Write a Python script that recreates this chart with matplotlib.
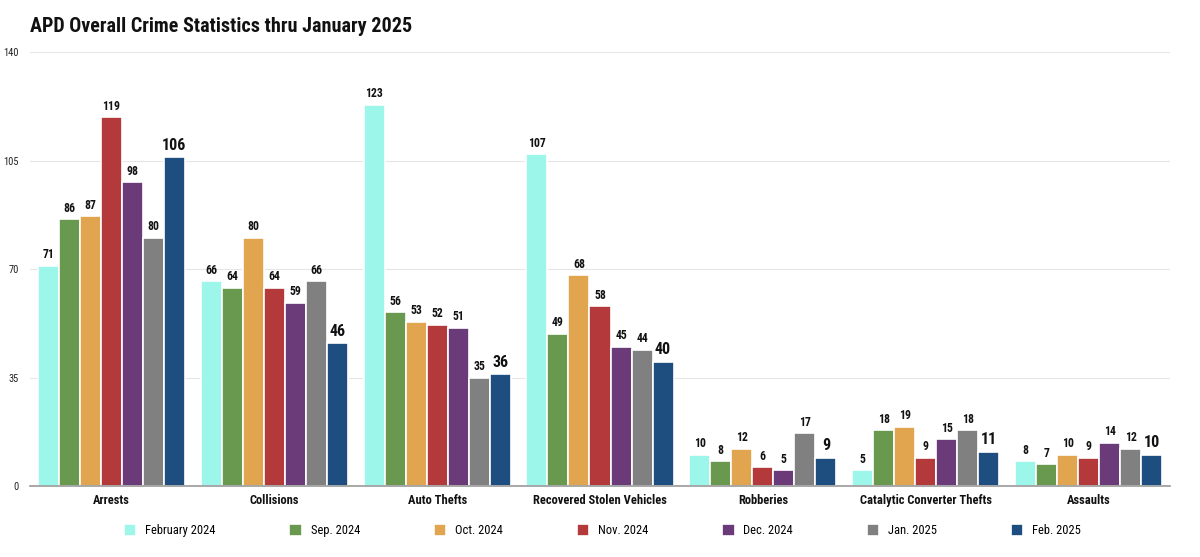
import matplotlib
matplotlib.use("Agg")
import matplotlib.pyplot as plt
from matplotlib import font_manager as fm
import numpy as np

categories = ["Arrests", "Collisions", "Auto Thefts", "Recovered Stolen Vehicles",
              "Robberies", "Catalytic Converter Thefts", "Assaults"]
series_names = ["February 2024", "Sep. 2024", "Oct. 2024", "Nov. 2024",
                "Dec. 2024", "Jan. 2025", "Feb. 2025"]
feb_2024 = [71, 66, 123, 107, 10, 5, 8]
sep_2024 = [86, 64, 56, 49, 8, 18, 7]
oct_2024 = [87, 80, 53, 68, 12, 19, 10]
nov_2024 = [119, 64, 52, 58, 6, 9, 9]
dec_2024 = [98, 59, 51, 45, 5, 15, 14]
jan_2025 = [80, 66, 35, 44, 17, 18, 12]
feb_2025 = [106, 46, 36, 40, 9, 11, 10]
yticks = [0, 35, 70, 105, 140]

series = [feb_2024, sep_2024, oct_2024, nov_2024, dec_2024, jan_2025, feb_2025]
colors = ["#9CF6EA", "#69984F", "#E1A44F", "#B3393A", "#6B3B79", "#808080", "#1E4D80"]

# pick a condensed family if one is installed
names = {f.name for f in fm.fontManager.ttflist}
cond = None
for cand in ["Roboto Condensed", "Fira Sans Condensed", "Open Sans Condensed",
             "Liberation Sans Narrow", "Noto Sans Condensed", "DejaVu Sans Condensed"]:
    if cand in names:
        cond = cand
        break
stretch = "normal"
if cond is None:
    for f in fm.fontManager.ttflist:
        if str(f.stretch) in ("condensed", "semi-condensed", "75", "87") or "ondensed" in f.fname:
            cond = f.name
            stretch = "condensed"
            break
if cond is None:
    cond = "Roboto"

plt.rcParams['font.family'] = [cond, 'Roboto', 'DejaVu Sans']
plt.rcParams['font.stretch'] = stretch

fig = plt.figure(figsize=(12, 5.57), dpi=100)
ax = fig.add_axes([0.025, 0.1275, 0.95, 0.779])

x = np.arange(len(categories))
n = len(series)
w = 0.129
for i, (vals, c, name) in enumerate(zip(series, colors, series_names)):
    pos = x + (i - (n - 1) / 2) * w
    ax.bar(pos, vals, width=w, color=c, edgecolor="white", linewidth=1.2,
           label=name, zorder=3)
    last = (i == n - 1)
    for p, v in zip(pos, vals):
        ax.text(p, v + 1.5, str(v), ha="center", va="bottom",
                fontsize=11.5 if last else 8.5, fontweight="bold", color="#111111",
                zorder=4)

ax.set_xlim(-0.5, 6.5)
ax.set_ylim(0, 140)
ax.set_yticks(yticks)
ax.set_yticklabels([str(t) for t in yticks], fontsize=7.5, color="#222222")
ax.set_xticks(x)
ax.set_xticklabels(categories, fontsize=9, fontweight="bold", color="#111111")
ax.tick_params(axis="both", length=0)
ax.tick_params(axis="x", pad=6)
ax.tick_params(axis="y", pad=8)
ax.grid(axis="y", color="#e6e6e6", linewidth=0.8, zorder=0)
for s in ["top", "right", "left"]:
    ax.spines[s].set_visible(False)
ax.spines["bottom"].set_color("#999999")
ax.spines["bottom"].set_linewidth(1.2)
ax.spines["bottom"].set_zorder(5)

fig.text(0.025, 0.952, "APD Overall Crime Statistics thru January 2025",
         fontsize=14.5, fontweight="bold", ha="left", va="center", color="#111111")

fig.legend(loc="center", bbox_to_anchor=(0.502, 0.047), ncol=7, frameon=False,
           fontsize=9, handlelength=1.0, handleheight=1.0, handletextpad=0.7,
           columnspacing=5.9)

fig.savefig("out.png", dpi=100)
